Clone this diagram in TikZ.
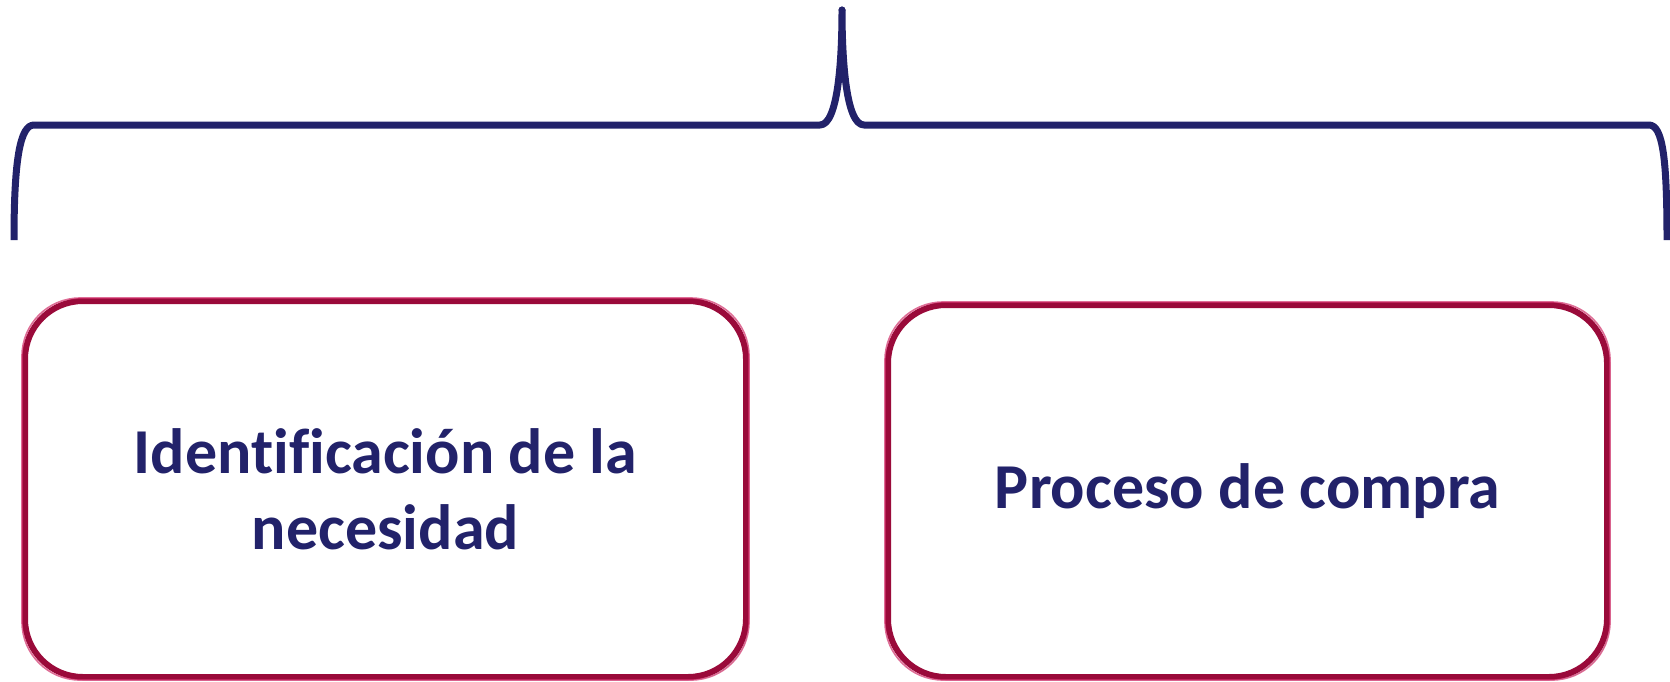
\documentclass[tikz,border=0pt]{standalone}
\usepackage{fontspec}
\setmainfont{Carlito}[Ligatures=CommonOff]
\usepackage{tikz}
\usetikzlibrary{shadows}

\definecolor{navy}{HTML}{22226A}
\definecolor{crimson}{HTML}{9A0A3A}
\definecolor{crimsonlight}{HTML}{D0306A}

\begin{document}
\begin{tikzpicture}[x=1pt, y=-1pt, line join=round,
  brace/.style={draw=navy, line width=7pt},
  stagebox/.style={rectangle, rounded corners=58pt, draw=crimson, line width=6pt, fill=white,
    inner sep=0pt, text=navy, font=\fontsize{64}{76}\selectfont\bfseries, align=center,
    drop shadow={shadow xshift=3pt, shadow yshift=-3pt, opacity=0.25, fill=gray}},
  shine/.style={draw=crimsonlight, line width=1.6pt, rounded corners=58pt, opacity=0.7}]
\useasboundingbox (0,0) rectangle (1670,681);
% brace over both stages
\coordinate (bl) at (14,240);
\coordinate (br) at (1667,240);
\coordinate (tip) at (842,10);
\draw[brace] (bl) .. controls (14,160) and (20,125) .. (34,125) -- (820,125)
  .. controls (838,125) and (842,60) .. (tip)
  .. controls (842,60) and (846,125) .. (864,125) -- (1649,125)
  .. controls (1663,125) and (1667,160) .. (br);
\fill[navy] (tip) circle (3.5pt);
% stages
\node (nec) at (385.5,489) [stagebox, minimum width=721pt, minimum height=376pt] {Identificación de la\\necesidad};
\node (com) at (1247.5,491) [stagebox, minimum width=719pt, minimum height=372pt] {Proceso de compra};
\draw[shine] (nec.south west) rectangle (nec.north east);
\draw[shine] (com.south west) rectangle (com.north east);
\end{tikzpicture}
\end{document}
